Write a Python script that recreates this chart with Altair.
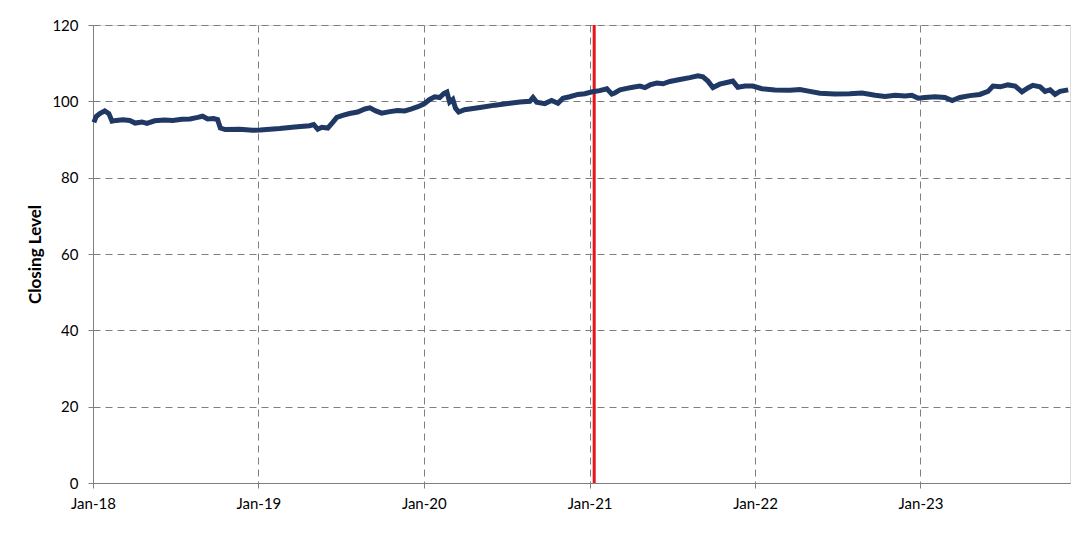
import altair as alt
import pandas as pd

dates = [
    "2018-01-03", "2018-01-08", "2018-01-16", "2018-01-27", "2018-02-05", "2018-02-12",
    "2018-02-21", "2018-03-08", "2018-03-23", "2018-04-04", "2018-04-19", "2018-04-30",
    "2018-05-17", "2018-06-08", "2018-06-26", "2018-07-16", "2018-08-03", "2018-08-20",
    "2018-08-31", "2018-09-11", "2018-09-24", "2018-10-03", "2018-10-09", "2018-10-20",
    "2018-11-21", "2018-12-19", "2019-01-05", "2019-02-17", "2019-03-22", "2019-04-24",
    "2019-05-03", "2019-05-12", "2019-05-21", "2019-06-03", "2019-06-14", "2019-06-23",
    "2019-07-06", "2019-07-21", "2019-08-08", "2019-08-24", "2019-09-04", "2019-09-17",
    "2019-09-30", "2019-10-18", "2019-11-04", "2019-11-20", "2019-12-05", "2019-12-19",
    "2020-01-01", "2020-01-14", "2020-01-25", "2020-02-05", "2020-02-14", "2020-02-21",
    "2020-02-27", "2020-03-05", "2020-03-11", "2020-03-18", "2020-03-31", "2020-05-04",
    "2020-06-06", "2020-07-09", "2020-07-31", "2020-08-22", "2020-08-29", "2020-09-06",
    "2020-09-24", "2020-10-09", "2020-10-23", "2020-11-03", "2020-11-18", "2020-12-06",
    "2020-12-21", "2021-01-07", "2021-01-23", "2021-02-08", "2021-02-19", "2021-02-25",
    "2021-03-09", "2021-03-24", "2021-04-06", "2021-04-22", "2021-05-03", "2021-05-14",
    "2021-05-29", "2021-06-12", "2021-06-27", "2021-07-19", "2021-08-10", "2021-08-28",
    "2021-09-08", "2021-09-19", "2021-09-30", "2021-10-15", "2021-11-02", "2021-11-13",
    "2021-11-24", "2021-12-10", "2021-12-27", "2022-01-16", "2022-02-14", "2022-03-19",
    "2022-04-10", "2022-05-02", "2022-05-24", "2022-06-26", "2022-07-29", "2022-08-25",
    "2022-09-23", "2022-10-15", "2022-11-06", "2022-11-28", "2022-12-13", "2022-12-27",
    "2023-01-11", "2023-02-02", "2023-02-24", "2023-03-12", "2023-03-29", "2023-04-20",
    "2023-05-12", "2023-05-30", "2023-06-10", "2023-06-26", "2023-07-13", "2023-07-29",
    "2023-08-13", "2023-08-26", "2023-09-06", "2023-09-22", "2023-10-03", "2023-10-14",
    "2023-10-25", "2023-11-05", "2023-11-23",
]

closing = [
    94.5, 96.0, 96.8, 97.5, 96.8, 94.8,
    95.0, 95.2, 95.0, 94.3, 94.6, 94.2,
    94.9, 95.1, 95.0, 95.3, 95.4, 95.8,
    96.1, 95.4, 95.5, 95.2, 93.0, 92.6,
    92.7, 92.4, 92.5, 92.9, 93.3, 93.6,
    93.9, 92.7, 93.2, 93.0, 94.5, 95.8,
    96.3, 96.8, 97.2, 98.0, 98.3, 97.5,
    96.9, 97.3, 97.6, 97.5, 98.0, 98.6,
    99.3, 100.5, 101.2, 101.0, 102.0, 102.4,
    99.8, 100.5, 98.2, 97.2, 97.8, 98.4,
    99.0, 99.5, 99.8, 100.0, 101.0, 99.8,
    99.4, 100.2, 99.5, 100.8, 101.2, 101.8,
    102.0, 102.5, 102.8, 103.3, 101.9, 102.2,
    103.0, 103.4, 103.7, 104.0, 103.6, 104.3,
    104.8, 104.6, 105.2, 105.7, 106.2, 106.7,
    106.4, 105.3, 103.6, 104.5, 105.0, 105.3,
    103.7, 104.0, 104.0, 103.3, 103.0, 102.9,
    103.1, 102.6, 102.1, 101.9, 102.0, 102.2,
    101.6, 101.3, 101.6, 101.4, 101.6, 100.8,
    101.0, 101.2, 101.0, 100.2, 101.0, 101.5,
    101.8, 102.6, 104.0, 103.8, 104.3, 104.0,
    102.5, 103.5, 104.2, 103.8, 102.6, 103.0,
    101.8, 102.6, 103.0,
]

event_dates = ["2021-01-11"]
tick_years = [2018, 2019, 2020, 2021, 2022, 2023]
y_ticks = [0, 20, 40, 60, 80, 100, 120]

df = pd.DataFrame({"date": [d + "T00:00:00" for d in dates], "value": closing})
ev = pd.DataFrame({"date": [d + "T00:00:00" for d in event_dates]})

FONT = "Lato"
GRID = "#7f7f7f"

x_scale = alt.Scale(domain=[alt.DateTime(year=2018, month=1, date=1),
                            alt.DateTime(year=2023, month=11, date=27)], nice=False)

x_axis = alt.Axis(
    values=[alt.DateTime(year=y, month=1, date=1) for y in tick_years],
    format="%b-%y", title=None, grid=True, gridDash=[7, 5], gridColor=GRID,
    gridWidth=1, domainColor="#7f7f7f", tickColor="#7f7f7f", tickSize=5,
    labelPadding=8, labelFontSize=15, labelFont=FONT, labelColor="#000000",
    labelAngle=0, labelFlush=False,
)
y_axis = alt.Axis(
    values=y_ticks, title="Closing Level", titleFont=FONT, titleFontSize=17,
    titleFontWeight="bold", titleColor="#000000", titlePadding=7,
    grid=True, gridDash=[7, 5], gridColor=GRID, gridWidth=1,
    domainColor="#7f7f7f", tickColor="#7f7f7f", tickSize=5, labelPadding=10,
    labelFontSize=15, labelFont=FONT, labelColor="#000000",
)

line = alt.Chart(df).mark_line(color="#1f3864", strokeWidth=5).encode(
    x=alt.X("date:T", scale=x_scale, axis=x_axis),
    y=alt.Y("value:Q", scale=alt.Scale(domain=[0, 120], nice=False), axis=y_axis),
)

rule = alt.Chart(ev).mark_rule(color="#e8141b", strokeWidth=3).encode(
    x=alt.X("date:T", scale=x_scale),
)

chart = alt.layer(rule, line).properties(
    width=977, height=458,
    autosize=alt.AutoSizeParams(type="none"),
    padding={"left": 85, "top": 17, "right": 5, "bottom": 40},
).configure_view(stroke=None).configure(background="white")

chart.save("out.html", embed_options={"renderer": "svg", "actions": False})
